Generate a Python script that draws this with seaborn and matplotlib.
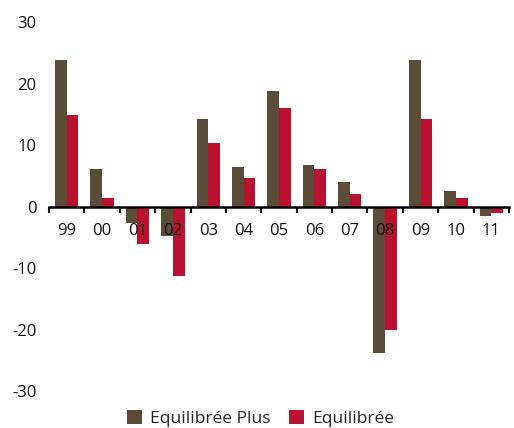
import matplotlib
matplotlib.use("Agg")
import matplotlib.pyplot as plt
import seaborn as sns
import pandas as pd
from matplotlib.ticker import FixedLocator

years = ["99", "00", "01", "02", "03", "04", "05", "06", "07", "08", "09", "10", "11"]
equilibree_plus = [23.9, 6.2, -2.6, -4.8, 14.2, 6.5, 18.8, 6.8, 4.0, -23.8, 23.9, 2.6, -1.5]
equilibree = [14.9, 1.4, -6.0, -11.3, 10.4, 4.7, 16.0, 6.2, 2.1, -20.1, 14.2, 1.4, -1.1]
series_names = ["Equilibrée Plus", "Equilibrée"]
colors = {"Equilibrée Plus": "#5a4c39", "Equilibrée": "#b9112f"}
y_ticks = [-30, -20, -10, 0, 10, 20, 30]

df = pd.DataFrame({
    "year": years * 2,
    "value": equilibree_plus + equilibree,
    "series": [series_names[0]] * len(years) + [series_names[1]] * len(years),
})

sns.set_theme(style="white")
plt.rcParams["font.family"] = ["Open Sans", "DejaVu Sans"]

fig = plt.figure(figsize=(5.14, 4.28), dpi=100)
ax = fig.add_axes([49 / 514, 1 - 391.2 / 428, 460 / 514, (391.2 - 22.2) / 428])

sns.barplot(data=df, x="year", y="value", hue="series", order=years,
            hue_order=series_names, palette=colors, width=0.66,
            saturation=1, linewidth=0, ax=ax, legend=True, zorder=1)

ax.set_axisbelow(False)
ax.set_xlim(-0.5, len(years) - 0.5)
ax.set_ylim(-30, 30)
ax.set_xlabel("")
ax.set_ylabel("")

for s in ["left", "right", "top"]:
    ax.spines[s].set_visible(False)
ax.spines["bottom"].set_position(("data", 0))
ax.spines["bottom"].set_color("black")
ax.spines["bottom"].set_linewidth(1.8)
ax.spines["bottom"].set_zorder(3)

ax.set_yticks(y_ticks)
ax.set_yticklabels([str(v) for v in y_ticks], fontsize=12, color="#111111")
ax.tick_params(axis="y", length=0, pad=9)

ax.xaxis.set_minor_locator(FixedLocator([i - 0.5 for i in range(len(years) + 1)]))
ax.tick_params(axis="x", which="major", length=0, pad=12, labelsize=12, labelcolor="#111111")
ax.tick_params(axis="x", which="minor", length=4, width=1.5, color="black", direction="out", bottom=True)

leg = ax.legend(loc="center", bbox_to_anchor=(0.5 - 0.04, -0.073), ncol=2,
                frameon=False, fontsize=12.5, handlelength=0.85, handleheight=0.85,
                handletextpad=0.45, columnspacing=1.1, borderaxespad=0)

fig.savefig("out.png", dpi=100)
